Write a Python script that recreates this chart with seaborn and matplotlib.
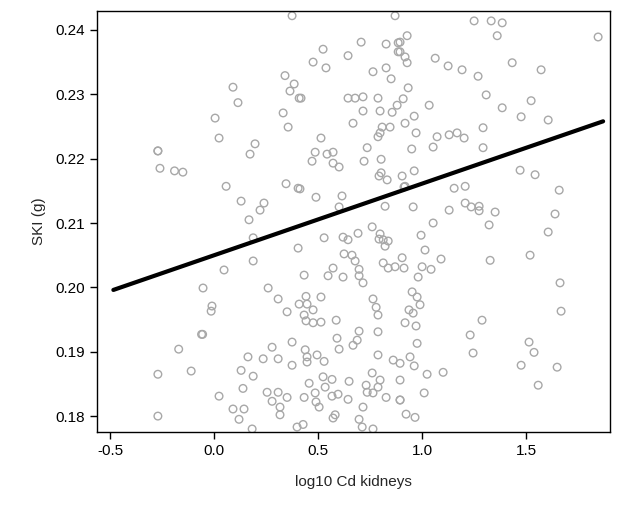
import matplotlib
matplotlib.use("Agg")
import matplotlib.pyplot as plt
import seaborn as sns
import pandas as pd

# log10 Cd kidneys (x) and SKI (g) (y)
cd_log = [
    -0.26, -0.19, -0.27, -0.27, -0.15, -0.17, -0.27, -0.11, -0.27, -0.06,
    0.375, 0.341, 0.385, 0.365, 0.409, 0.091, 0.115, 0.332, 0.356, 0.005, 0.024, 0.197,
    0.173, 0.058, 0.130, 0.346, 0.404, 0.240, 0.221, 0.168, 0.188, 0.404, 0.188, 0.048,
    -0.053, 0.260, 0.409, -0.010, -0.014, -0.055, 0.308, 0.351, 0.375, 0.279, 0.163,
    0.236, 0.308, 0.375, 0.130, 0.188, 0.139, 0.024, 0.255, 0.308, 0.279, 0.351, 0.091,
    0.144, 0.317, 0.317, 0.120, 0.183, 0.399,
    0.870, 0.524, 0.707, 0.827, 0.885, 0.885, 0.644, 0.476, 0.538, 0.764, 0.827, 0.851,
    0.418, 0.644, 0.678, 0.716, 0.788, 0.716, 0.798, 0.856, 0.880, 0.668, 0.808, 0.846,
    0.798, 0.788, 0.514, 0.486, 0.543, 0.572, 0.736, 0.471, 0.572, 0.601, 0.721, 0.803,
    0.793, 0.803, 0.832, 0.615, 0.601, 0.822, 0.413, 0.490, 0.529, 0.620, 0.644, 0.692,
    0.793, 0.813, 0.760, 0.798, 0.822, 0.837, 0.625, 0.663, 0.678, 0.813, 0.837, 0.870,
    0.572, 0.548, 0.620, 0.697, 0.697, 0.716, 0.433,
    0.442, 0.514, 0.447, 0.476, 0.433, 0.442, 0.476, 0.514, 0.587, 0.764, 0.779, 0.788,
    0.697, 0.788, 0.591, 0.688, 0.668, 0.601, 0.438, 0.447, 0.447, 0.495, 0.529, 0.788,
    0.861, 0.760, 0.524, 0.567, 0.649, 0.457, 0.534, 0.731, 0.798, 0.788, 0.486, 0.433,
    0.567, 0.596, 0.644, 0.736, 0.764, 0.827, 0.894, 0.490, 0.505, 0.716, 0.582, 0.572,
    0.697, 0.712, 0.428, 0.764,
    1.250, 1.332, 1.385, 1.361, 0.928, 0.894, 0.894, 0.918, 0.928, 1.063, 1.125, 1.192,
    1.269, 0.933, 0.909, 1.034, 1.308, 1.385, 0.962, 0.918, 0.971, 1.072, 1.130, 1.168,
    1.202, 1.293, 0.950, 1.053, 1.293,
    0.904, 0.918, 0.913, 0.962, 0.957, 1.130, 1.154, 1.207, 1.207, 1.236, 1.274, 1.274,
    1.351, 1.322, 1.053, 0.995, 1.014, 0.904, 0.913, 1.000, 1.043, 1.091, 1.327, 0.981,
    0.952, 0.976, 0.990, 0.937, 0.957, 0.918, 0.971, 0.976, 0.942, 0.962, 0.894, 1.024,
    1.101, 1.010, 0.894, 0.923, 0.966, 1.288, 1.231, 1.245, 0.894,
    1.846, 1.524, 1.476, 1.606, 1.543, 1.471, 1.659, 1.639, 1.606, 1.519, 1.663, 1.668,
    1.514, 1.538, 1.476, 1.649, 1.558, 1.433, 1.572,
]
ski = [
    0.2185, 0.2181, 0.2212, 0.2212, 0.2179, 0.1904, 0.1865, 0.1870, 0.1800, 0.1927,
    0.2422, 0.2329, 0.2316, 0.2305, 0.2294, 0.2311, 0.2287, 0.2271, 0.2249, 0.2263, 0.2232, 0.2223,
    0.2207, 0.2157, 0.2134, 0.2161, 0.2154, 0.2131, 0.2120, 0.2105, 0.2077, 0.2061, 0.2041, 0.2027,
    0.1999, 0.1999, 0.1974, 0.1971, 0.1963, 0.1927, 0.1982, 0.1962, 0.1915, 0.1907, 0.1892,
    0.1889, 0.1889, 0.1879, 0.1871, 0.1862, 0.1843, 0.1831, 0.1837, 0.1837, 0.1823, 0.1829,
    0.1811, 0.1811, 0.1814, 0.1802, 0.1795, 0.1780, 0.1783,
    0.2422, 0.2370, 0.2381, 0.2378, 0.2380, 0.2366, 0.2360, 0.2350, 0.2341, 0.2335, 0.2341, 0.2324,
    0.2294, 0.2294, 0.2294, 0.2296, 0.2294, 0.2274, 0.2274, 0.2272, 0.2283, 0.2255, 0.2249, 0.2249,
    0.2240, 0.2234, 0.2232, 0.2210, 0.2207, 0.2210, 0.2217, 0.2196, 0.2193, 0.2187, 0.2196, 0.2199,
    0.2173, 0.2178, 0.2167, 0.2142, 0.2125, 0.2126, 0.2153, 0.2140, 0.2077, 0.2078, 0.2074, 0.2084,
    0.2075, 0.2074, 0.2094, 0.2083, 0.2064, 0.2072, 0.2052, 0.2050, 0.2041, 0.2038, 0.2030, 0.2032,
    0.2030, 0.2018, 0.2016, 0.2028, 0.2018, 0.2007, 0.2019,
    0.1986, 0.1985, 0.1974, 0.1965, 0.1957, 0.1948, 0.1945, 0.1946, 0.1949, 0.1982, 0.1969, 0.1957,
    0.1932, 0.1931, 0.1921, 0.1918, 0.1910, 0.1904, 0.1903, 0.1892, 0.1884, 0.1895, 0.1885, 0.1895,
    0.1887, 0.1867, 0.1861, 0.1857, 0.1854, 0.1851, 0.1845, 0.1848, 0.1856, 0.1845, 0.1836, 0.1829,
    0.1831, 0.1834, 0.1826, 0.1837, 0.1836, 0.1829, 0.1825, 0.1822, 0.1814, 0.1814, 0.1802, 0.1797,
    0.1795, 0.1783, 0.1787, 0.1780,
    0.2414, 0.2414, 0.2411, 0.2391, 0.2391, 0.2381, 0.2366, 0.2358, 0.2349, 0.2356, 0.2344, 0.2338,
    0.2328, 0.2310, 0.2293, 0.2283, 0.2299, 0.2279, 0.2266, 0.2255, 0.2240, 0.2234, 0.2237, 0.2240,
    0.2232, 0.2248, 0.2215, 0.2218, 0.2217,
    0.2173, 0.2157, 0.2156, 0.2181, 0.2125, 0.2120, 0.2154, 0.2157, 0.2131, 0.2125, 0.2126, 0.2119,
    0.2117, 0.2097, 0.2100, 0.2081, 0.2058, 0.2046, 0.2030, 0.2032, 0.2028, 0.2044, 0.2042, 0.2016,
    0.1993, 0.1985, 0.1973, 0.1965, 0.1960, 0.1945, 0.1940, 0.1913, 0.1892, 0.1878, 0.1882, 0.1865,
    0.1868, 0.1836, 0.1825, 0.1803, 0.1798, 0.1949, 0.1926, 0.1898, 0.1856,
    0.2389, 0.2290, 0.2265, 0.2260, 0.2175, 0.2182, 0.2151, 0.2114, 0.2086, 0.2050, 0.2007, 0.1963,
    0.1915, 0.1899, 0.1879, 0.1876, 0.1848, 0.2349, 0.2338,
]

# fitted regression line (its two ends)
fit_x = [-0.484, 1.87]
fit_y = [0.1996, 0.2258]

df = pd.DataFrame({"x": cd_log, "y": ski})
fit = pd.DataFrame({"x": fit_x, "y": fit_y})

sns.set_style("white")
plt.rcParams["font.family"] = ["Liberation Sans", "DejaVu Sans"]

fig = plt.figure(figsize=(6.22, 5.2), dpi=100)
ax = fig.add_axes([0.156, 0.169, 0.825, 0.81])

sns.scatterplot(data=df, x="x", y="y", ax=ax, marker="o", s=30,
                facecolors="none", edgecolor="#a8a8a8", linewidth=1.0)
sns.lineplot(data=fit, x="x", y="y", ax=ax, color="black", linewidth=3)

ax.set_xlim(-0.5625, 1.904)
ax.set_ylim(0.17751, 0.24295)
ax.set_xticks([-0.5, 0.0, 0.5, 1.0, 1.5])
ax.set_xticklabels(["-0.5", "0.0", "0.5", "1.0", "1.5"])
ax.set_yticks([0.18, 0.19, 0.20, 0.21, 0.22, 0.23, 0.24])
ax.set_yticklabels(["0.18", "0.19", "0.20", "0.21", "0.22", "0.23", "0.24"])
ax.tick_params(axis="both", direction="out", length=5, width=1, labelsize=11,
               colors="black", bottom=True, left=True)
ax.set_xlabel("log10 Cd kidneys", fontsize=11, labelpad=12)
ax.set_ylabel("SKI (g)", fontsize=11, labelpad=7)
for s in ax.spines.values():
    s.set_color("black")
    s.set_linewidth(1)

fig.savefig("out.png", dpi=100)
